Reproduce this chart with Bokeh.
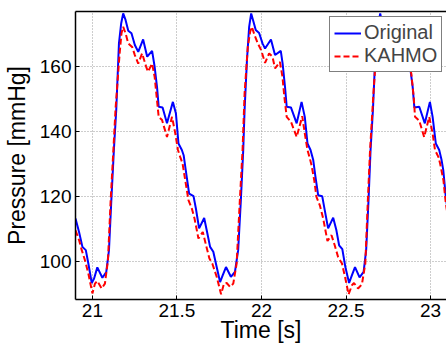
from bokeh.plotting import figure
from bokeh.models import Range1d, LinearAxis, FixedTicker, Legend, LegendItem
from bokeh.embed import file_html
from bokeh.resources import INLINE

# Original signal (blue)
orig_t = [20.900, 20.921, 20.941, 20.961, 20.976, 20.996, 21.010, 21.029, 21.059, 21.082,
          21.098, 21.112, 21.127, 21.141, 21.157, 21.170, 21.182, 21.196, 21.212, 21.231,
          21.251, 21.271, 21.300, 21.324, 21.353, 21.368, 21.382, 21.392, 21.415, 21.441,
          21.476, 21.494, 21.509, 21.529, 21.540, 21.552, 21.572, 21.598, 21.612, 21.631,
          21.661, 21.676, 21.696, 21.715, 21.735, 21.755, 21.771, 21.790, 21.819, 21.843,
          21.862, 21.878, 21.892, 21.900, 21.914, 21.927, 21.939, 21.953, 21.966, 21.986,
          22.006, 22.021, 22.056, 22.080, 22.114, 22.125, 22.139, 22.149, 22.174, 22.208,
          22.237, 22.256, 22.272, 22.290, 22.306, 22.319, 22.335, 22.359, 22.374, 22.394,
          22.424, 22.443, 22.459, 22.478, 22.496, 22.518, 22.535, 22.553, 22.580, 22.604,
          22.619, 22.633, 22.645, 22.659, 22.672, 22.688, 22.702, 22.712, 22.725, 22.745,
          22.765, 22.780, 22.815, 22.839, 22.870, 22.880, 22.894, 22.904, 22.933, 22.966,
          22.996, 23.012, 23.031, 23.051, 23.065, 23.075, 23.090, 23.100]
orig_p = [113.1, 109.0, 104.4, 103.4, 99.3, 93.3, 94.7, 98.1, 94.9, 96.7,
          103.4, 118.8, 134.2, 146.5, 167.0, 173.1, 176.2, 174.2, 170.9, 170.1,
          166.5, 164.4, 168.2, 162.9, 164.7, 159.8, 153.6, 147.5, 147.3, 142.4,
          149.0, 145.4, 136.2, 134.2, 132.5, 128.0, 120.8, 120.0, 116.2, 110.1,
          113.3, 109.5, 104.4, 102.9, 98.2, 93.6, 95.7, 98.2, 95.2, 96.7,
          103.4, 118.8, 134.2, 146.5, 161.8, 172.1, 176.2, 173.6, 171.1, 170.2,
          167.0, 165.4, 168.2, 163.4, 164.7, 160.8, 153.6, 147.5, 147.3, 142.4,
          149.0, 144.4, 136.2, 134.2, 131.1, 126.0, 120.3, 120.0, 115.7, 110.1,
          113.4, 109.5, 104.9, 103.7, 98.2, 93.3, 95.7, 98.2, 95.0, 96.7,
          103.4, 118.8, 134.2, 146.5, 161.8, 172.1, 176.2, 173.6, 171.1, 170.2,
          167.0, 165.4, 168.2, 163.4, 164.7, 159.3, 153.6, 147.3, 147.5, 142.4,
          149.0, 144.4, 136.2, 134.2, 131.1, 128.0, 119.8, 116.0]

# KAHMO estimate (red dashed)
kahmo_t = [20.900, 20.921, 20.937, 20.956, 20.976, 21.000, 21.015, 21.029, 21.055, 21.074,
           21.092, 21.108, 21.124, 21.137, 21.161, 21.172, 21.182, 21.196, 21.212, 21.235,
           21.251, 21.271, 21.294, 21.318, 21.329, 21.353, 21.368, 21.382, 21.392, 21.412,
           21.441, 21.471, 21.490, 21.506, 21.519, 21.533, 21.549, 21.568, 21.588, 21.604,
           21.627, 21.653, 21.672, 21.692, 21.709, 21.735, 21.761, 21.778, 21.794, 21.814,
           21.833, 21.853, 21.872, 21.888, 21.900, 21.919, 21.933, 21.943, 21.959, 21.978,
           21.998, 22.021, 22.045, 22.065, 22.080, 22.109, 22.124, 22.135, 22.149, 22.174,
           22.208, 22.241, 22.256, 22.272, 22.286, 22.296, 22.312, 22.325, 22.345, 22.365,
           22.390, 22.414, 22.433, 22.453, 22.476, 22.496, 22.515, 22.535, 22.547, 22.571,
           22.594, 22.614, 22.629, 22.642, 22.662, 22.674, 22.688, 22.702, 22.718, 22.737,
           22.757, 22.780, 22.804, 22.824, 22.845, 22.868, 22.886, 22.900, 22.908, 22.933,
           22.962, 22.992, 23.012, 23.026, 23.046, 23.056, 23.076, 23.090, 23.100]
kahmo_p = [109.5, 106.5, 103.4, 100.3, 96.2, 90.1, 93.1, 93.9, 91.6, 93.1,
           100.3, 118.8, 134.2, 147.0, 163.9, 170.1, 172.1, 170.1, 167.0, 165.9,
           163.4, 160.8, 163.9, 159.8, 158.3, 160.8, 156.7, 149.5, 144.4, 143.4,
           138.2, 144.4, 139.3, 134.2, 132.1, 130.1, 124.9, 118.8, 116.2, 113.1,
           107.0, 109.0, 104.9, 100.8, 99.3, 95.2, 89.8, 93.1, 93.3, 92.1,
           93.1, 99.3, 118.8, 134.2, 151.6, 165.9, 170.6, 172.1, 169.5, 167.0,
           164.9, 161.0, 163.9, 162.9, 159.3, 161.3, 156.7, 150.6, 144.4, 142.9,
           138.2, 144.6, 139.3, 134.2, 131.6, 129.5, 124.9, 119.8, 117.2, 113.1,
           106.2, 108.0, 104.9, 101.3, 99.3, 94.7, 89.8, 92.6, 93.3, 91.6,
           92.9, 99.3, 118.8, 134.2, 151.6, 160.8, 169.5, 172.1, 169.5, 167.0,
           164.9, 161.0, 163.9, 162.9, 158.8, 161.3, 157.7, 150.6, 144.4, 143.2,
           138.2, 144.4, 139.3, 134.2, 132.1, 130.1, 124.9, 117.8, 114.5]

x_ticks = [21, 21.5, 22, 22.5, 23]
y_ticks = [100, 120, 140, 160]
x_tick_labels = {21: "21", 21.5: "21.5", 22: "22", 22.5: "22.5", 23: "23"}
series_names = ["Original", "KAHMO"]

FONT = "Liberation Sans"

p = figure(width=446, height=349, output_backend="svg", toolbar_location=None,
           x_range=Range1d(20.9, 20.9 + 373 / 170.0), y_range=Range1d(88.22, 176.8),
           min_border_left=73, min_border_right=0, min_border_top=11, min_border_bottom=50,
           background_fill_color="white", border_fill_color="white")
p.outline_line_color = None

# grid
for g in (p.xgrid, p.ygrid):
    g.grid_line_color = "#9a9a9a"
    g.grid_line_dash = "1 2"
    g.grid_line_width = 1
p.xgrid.ticker = FixedTicker(ticks=x_ticks)
p.ygrid.ticker = FixedTicker(ticks=y_ticks)

# axes
p.xaxis.ticker = FixedTicker(ticks=x_ticks)
p.yaxis.ticker = FixedTicker(ticks=y_ticks)
p.xaxis.major_label_overrides = x_tick_labels
for ax in (p.xaxis[0], p.yaxis[0]):
    ax.axis_line_color = "black"
    ax.axis_line_width = 1.5
    ax.major_tick_in = 4
    ax.major_tick_out = 0
    ax.major_tick_line_color = "black"
    ax.minor_tick_line_color = None
    ax.major_label_text_font = FONT
    ax.major_label_text_font_size = "19px"
    ax.major_label_text_color = "black"
    ax.major_label_standoff = 4
    ax.axis_label_text_font = FONT
    ax.axis_label_text_font_size = "23px"
    ax.axis_label_text_font_style = "normal"
    ax.axis_label_text_color = "black"
p.xaxis.axis_label = "Time [s]"
p.yaxis.axis_label = "Pressure [mmHg]"
p.xaxis.axis_label_standoff = -3
p.yaxis.axis_label_standoff = 7

# top border of the box (axis line only, no labels)
top = LinearAxis(ticker=FixedTicker(ticks=[]), axis_line_color="black", axis_line_width=1.5,
                 major_tick_line_color=None, minor_tick_line_color=None, major_label_standoff=0)
p.add_layout(top, "above")

r1 = p.line(orig_t, orig_p, line_color="#0000ff", line_width=2)
r2 = p.line(kahmo_t, kahmo_p, line_color="#ff0000", line_width=2, line_dash="6 3")

legend = Legend(items=[LegendItem(label=series_names[0], renderers=[r1]),
                       LegendItem(label=series_names[1], renderers=[r2])],
                location=(254, 227), margin=0, padding=4, spacing=0,
                glyph_width=27, glyph_height=22, label_height=22, label_standoff=3,
                label_text_font=FONT, label_text_font_size="20px",
                border_line_color="black", border_line_width=1.5,
                background_fill_color="white", background_fill_alpha=1.0)
p.add_layout(legend)

open("out.html", "w").write(file_html(p, INLINE))
